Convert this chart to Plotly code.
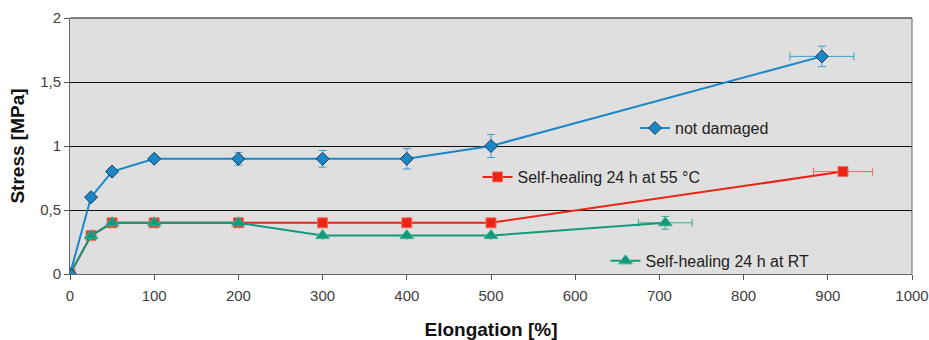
import plotly.graph_objects as go

# Data
x_nd = [0, 25, 50, 100, 200, 300, 400, 500, 893]
y_nd = [0, 0.6, 0.8, 0.9, 0.9, 0.9, 0.9, 1.0, 1.7]
ey_nd = [0, 0, 0, 0, 0.05, 0.065, 0.08, 0.09, 0.08]
ex_nd = [0, 0, 0, 0, 0, 0, 0, 0, 38]

x_55 = [0, 25, 50, 100, 200, 300, 400, 500, 918]
y_55 = [0, 0.3, 0.4, 0.4, 0.4, 0.4, 0.4, 0.4, 0.8]
ex_55 = [0, 0, 0, 0, 0, 0, 0, 0, 35]

x_rt = [0, 25, 50, 100, 200, 300, 400, 500, 707]
y_rt = [0, 0.3, 0.4, 0.4, 0.4, 0.3, 0.3, 0.3, 0.4]
ey_rt = [0, 0, 0, 0, 0, 0, 0, 0, 0.05]
ex_rt = [0, 0, 0, 0, 0, 0, 0, 0, 32]

x_ticks = list(range(0, 1001, 100))
y_ticks = [0, 0.5, 1, 1.5, 2]
y_tick_labels = ["0", "0,5", "1", "1,5", "2"]

BLUE = "#1a88c8"
RED = "#ec2415"
GREEN = "#129a7c"

fig = go.Figure()

fig.add_trace(go.Scatter(
    x=x_55, y=y_55, name="Self-healing 24 h at 55 °C", mode="lines+markers",
    line=dict(color=RED, width=2),
    marker=dict(symbol="square", size=10, color=RED, line=dict(color="#f07060", width=1)),
    error_x=dict(type="data", array=ex_55, color="#f06a5e", thickness=1, width=4),
    legend="legend2", showlegend=True,
))
fig.add_trace(go.Scatter(
    x=x_rt, y=y_rt, name="Self-healing 24 h at RT", mode="lines+markers",
    line=dict(color=GREEN, width=2),
    marker=dict(symbol="triangle-up", size=12, color=GREEN, line=dict(color="#40b090", width=1)),
    error_x=dict(type="data", array=ex_rt, color="#40a890", thickness=1, width=4),
    error_y=dict(type="data", array=ey_rt, color="#40a890", thickness=1, width=4),
    legend="legend3", showlegend=True,
))
fig.add_trace(go.Scatter(
    x=x_nd, y=y_nd, name="not damaged", mode="lines+markers",
    line=dict(color=BLUE, width=2),
    marker=dict(symbol="diamond", size=10, color=BLUE, line=dict(color="#1a3a55", width=1)),
    error_x=dict(type="data", array=ex_nd, color="#3d9ed4", thickness=1, width=4),
    error_y=dict(type="data", array=ey_nd, color="#3d9ed4", thickness=1, width=4),
    legend="legend", showlegend=True,
))

legend_common = dict(bgcolor="rgba(0,0,0,0)", font=dict(family="Liberation Sans, Arial", size=16, color="#222"),
                     xanchor="left", yanchor="middle", itemwidth=30, tracegroupgap=0)

fig.update_layout(
    width=929, height=340,
    margin=dict(l=70, r=17, t=18, b=66, autoexpand=False),
    showlegend=True,
    paper_bgcolor="white",
    plot_bgcolor="#dfdfdf",
    font=dict(family="Liberation Sans, Arial", size=15, color="#333"),
    legend=dict(x=0.671, y=0.57, **legend_common),
    legend2=dict(x=0.484, y=0.379, **legend_common),
    legend3=dict(x=0.636, y=0.051, **legend_common),
    xaxis=dict(
        range=[0, 1000], tickvals=x_ticks, ticks="outside", ticklen=5, tickcolor="#555",
        showgrid=False, zeroline=False, showline=True, linecolor="#666", linewidth=1, mirror=False,
        automargin=False,
        title=dict(text="<b>Elongation [%]</b>", font=dict(size=19, color="#111"), standoff=20),
        tickfont=dict(size=15, color="#404040"), ticklabelstandoff=3,
    ),
    yaxis=dict(
        range=[0, 2], tickvals=y_ticks, ticktext=y_tick_labels, ticks="outside", ticklen=5, tickcolor="#555",
        showgrid=True, gridcolor="#111", gridwidth=1, zeroline=False,
        showline=True, linecolor="#666", linewidth=1, automargin=False,
        title=dict(text="<b>Stress [MPa]</b>", font=dict(size=19, color="#111"), standoff=10),
        tickfont=dict(size=15, color="#404040"),
    ),
)

# right border and top gridline of plot area
fig.add_shape(type="line", xref="paper", yref="paper", x0=1, x1=1, y0=0, y1=1,
              line=dict(color="#666", width=1))
fig.add_shape(type="line", xref="paper", yref="paper", x0=0, x1=1, y0=1, y1=1,
              line=dict(color="#111", width=1))

fig.write_html("out.html", config={"displayModeBar": False},
               post_script="document.body.style.margin='0px';document.body.style.overflow='hidden';")
